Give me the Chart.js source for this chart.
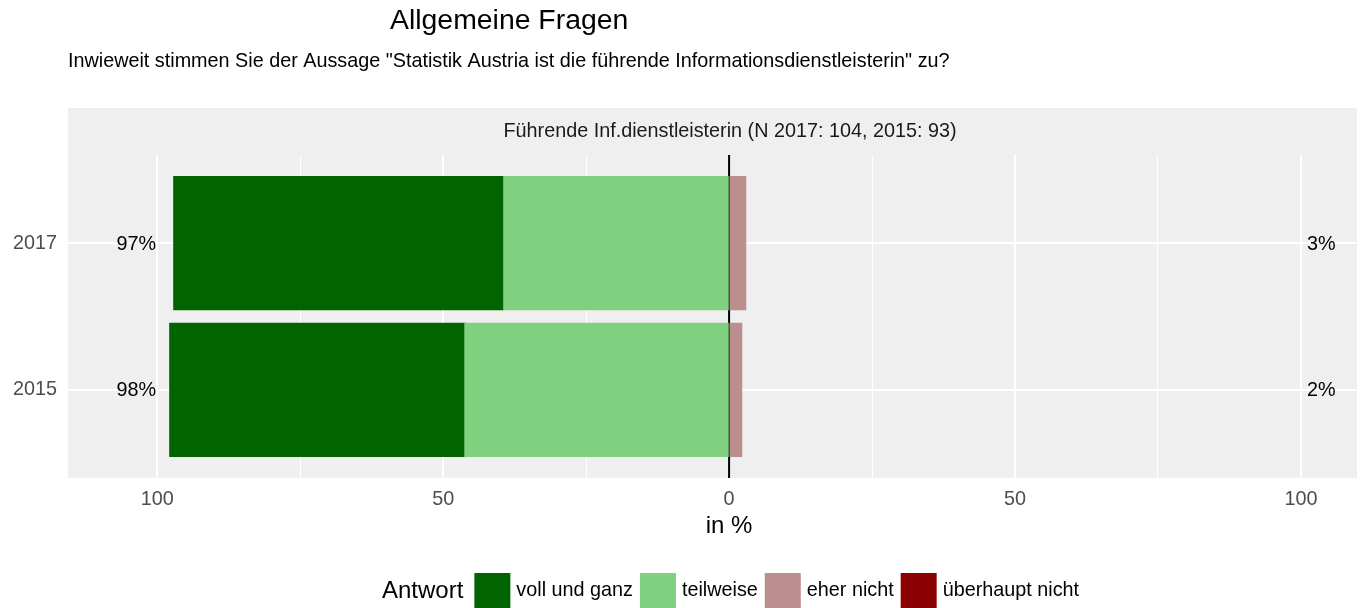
<!DOCTYPE html>
<html>
<head>
<meta charset="utf-8">
<script src="https://cdn.jsdelivr.net/npm/chart.js@4/dist/chart.umd.min.js"></script>
<style>
  html, body { margin: 0; padding: 0; background: #fff; }
  #chart { display: block; }
</style>
</head>
<body>
<canvas id="chart" width="1371" height="608"></canvas>
<script>
'use strict';
// data (percent of answers)
var categories = ['2017', '2015'];
var vollUndGanz = [57.7, 51.6];
var teilweise = [39.4, 46.2];
var eherNicht = [2.9, 2.2];
var ueberhauptNicht = [0, 0];
var answerLabels = ['voll und ganz', 'teilweise', 'eher nicht', 'überhaupt nicht'];
var answerColors = ['#006400', '#7fd07f', '#bc8f8f', '#8b0000'];
var xTicks = [-100, -75, -50, -25, 0, 25, 50, 75, 100];

var FONT = "'Liberation Sans', Arial, Helvetica, sans-serif";
var BASE = 19.8;

// category i -> y position (2017 on top)
function yPos(i){
  return categories.length - i;
}

function makeData(values, sign){
  var out = [];
  for(var i = 0; i < categories.length; i++){
    out.push({x: sign * values[i], y: yPos(i)});
  }
  return out;
}

// order: the one closest to zero stacks first
var datasets = [
  {label: answerLabels[0], data: makeData(vollUndGanz, -1), backgroundColor: answerColors[0], order: 2},
  {label: answerLabels[1], data: makeData(teilweise, -1), backgroundColor: answerColors[1], order: 1},
  {label: answerLabels[2], data: makeData(eherNicht, 1), backgroundColor: answerColors[2], order: 3},
  {label: answerLabels[3], data: makeData(ueberhauptNicht, 1), backgroundColor: answerColors[3], order: 4}
];

var panelLeft = 68, panelRight = 1357, panelTop = 108, panelBottom = 478;

var panelPlugin = {
  id: 'panel',
  beforeDraw: function(chart){
    var ctx = chart.ctx;
    ctx.save();
    ctx.fillStyle = '#ffffff';
    ctx.fillRect(0, 0, chart.width, chart.height);
    ctx.fillStyle = '#efefef';
    ctx.fillRect(panelLeft, panelTop, panelRight - panelLeft, panelBottom - panelTop);
    ctx.restore();
  },
  beforeDatasetsDraw: function(chart){
    // zero line, under the bars
    var ctx = chart.ctx;
    var x0 = chart.scales.x.getPixelForValue(0);
    ctx.save();
    ctx.strokeStyle = '#000';
    ctx.lineWidth = 2;
    ctx.beginPath();
    ctx.moveTo(x0, chart.chartArea.top);
    ctx.lineTo(x0, chart.chartArea.bottom);
    ctx.stroke();
    ctx.restore();
  },
  afterDraw: function(chart){
    var ctx = chart.ctx;
    var xs = chart.scales.x;
    var ys = chart.scales.y;
    ctx.save();
    ctx.textBaseline = 'middle';

    // titles
    ctx.fillStyle = '#000';
    ctx.textAlign = 'left';
    ctx.font = '28.4px ' + FONT;
    ctx.fillText('Allgemeine Fragen', 390, 21);
    ctx.font = BASE + 'px ' + FONT;
    ctx.fillText('Inwieweit stimmen Sie der Aussage "Statistik Austria ist die führende Informationsdienstleisterin" zu?', 68, 62);

    // strip text
    ctx.fillStyle = '#1a1a1a';
    ctx.textAlign = 'center';
    ctx.fillText('Führende Inf.dienstleisterin (N 2017: 104, 2015: 93)', 730, 132);

    // percent labels
    ctx.fillStyle = '#000';
    for(var i = 0; i < categories.length; i++){
      var y = ys.getPixelForValue(yPos(i));
      var pos = Math.round(vollUndGanz[i] + teilweise[i]);
      var neg = Math.round(eherNicht[i] + ueberhauptNicht[i]);
      ctx.textAlign = 'right';
      ctx.fillText(pos + '%', xs.getPixelForValue(-100) - 1, y + 1);
      ctx.textAlign = 'left';
      ctx.fillText(neg + '%', xs.getPixelForValue(100) + 6, y + 1);
    }

    // axis title
    ctx.textAlign = 'center';
    ctx.font = '24px ' + FONT;
    ctx.fillText('in %', xs.getPixelForValue(0), 526);

    // legend
    var lx = 382, ly = 591;
    ctx.textAlign = 'left';
    ctx.fillText('Antwort', lx, ly);
    lx += ctx.measureText('Antwort').width + 11;
    ctx.font = BASE + 'px ' + FONT;
    for(var j = 0; j < answerLabels.length; j++){
      ctx.fillStyle = answerColors[j];
      ctx.fillRect(lx, ly - 18, 36, 36);
      lx += 36 + 6;
      ctx.fillStyle = '#000';
      ctx.fillText(answerLabels[j], lx, ly);
      lx += ctx.measureText(answerLabels[j]).width + 7;
    }
    ctx.restore();
  }
};

var ctx = document.getElementById('chart');
var myChart = new Chart(ctx, {
  type: 'bar',
  data: {datasets: datasets},
  plugins: [panelPlugin],
  options: {
    responsive: false,
    animation: false,
    indexAxis: 'y',
    layout: {padding: {top: 155, right: 14, left: 0, bottom: 0}},
    datasets: {
      bar: {
        barPercentage: 0.905,
        categoryPercentage: 1,
        // a bit of overlap so the zero line does not shine through; nothing for empty bars
        inflateAmount: function(c){ return c.raw && c.raw.x !== 0 ? 0.6 : 0; }
      }
    },
    plugins: {legend: {display: false}, tooltip: {enabled: false}},
    scales: {
      x: {
        type: 'linear',
        stacked: true,
        min: -115.6,
        max: 109.8,
        afterBuildTicks: function(scale){
          scale.ticks = xTicks.map(function(v){ return {value: v}; });
        },
        afterFit: function(scale){ scale.height = 130; },
        border: {display: false},
        grid: {
          drawTicks: false,
          color: '#ffffff',
          lineWidth: function(c){
            if(!c.tick) return 1;
            return c.tick.value % 50 === 0 ? 2 : 1;
          }
        },
        ticks: {
          autoSkip: false,
          maxRotation: 0,
          padding: 10,
          color: '#4d4d4d',
          font: {family: FONT, size: BASE},
          callback: function(v){ return v % 50 === 0 ? Math.abs(v) : ''; }
        }
      },
      y: {
        type: 'linear',
        stacked: true,
        offset: false,
        min: 0.4,
        max: 2.6,
        afterBuildTicks: function(scale){
          scale.ticks = categories.map(function(c, i){ return {value: yPos(i)}; });
        },
        afterFit: function(scale){ scale.width = 68; },
        border: {display: false},
        grid: {drawTicks: false, offset: false, color: '#ffffff', lineWidth: 2},
        ticks: {
          padding: 11,
          color: '#4d4d4d',
          font: {family: FONT, size: BASE},
          callback: function(v){
            var i = categories.length - v;
            return categories[i] !== undefined ? categories[i] : '';
          }
        }
      }
    }
  }
});
</script>
</body>
</html>
